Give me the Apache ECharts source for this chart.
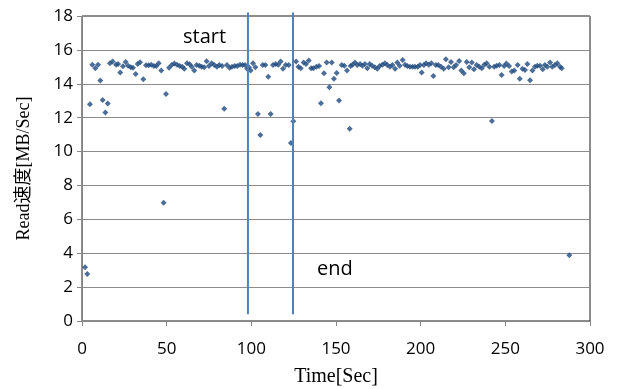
<!DOCTYPE html>
<html>
<head>
<meta charset="utf-8">
<script src="https://cdn.jsdelivr.net/npm/echarts@6/dist/echarts.min.js"></script>
<style>html,body{margin:0;padding:0;background:#fff}#c{width:619px;height:389px}</style>
</head>
<body>
<div id="c"></div>
<script>
var timeSec = [1.8,3.1,4.7,6.1,7.9,9.5,10.8,12.2,13.8,15.2,16.5,18.1,20.1,21.3,22.6,24.2,25.8,27.2,28.8,30.1,31.7,32.9,34.3,36.2,37.8,39.4,40.9,42.5,43.9,45.3,46.8,48.2,49.6,51.4,53.0,54.5,56.1,57.7,59.2,60.4,62.0,63.6,64.8,66.3,67.7,69.3,70.7,72.2,73.6,75.0,76.6,78.1,79.7,81.1,82.7,84.0,85.6,87.2,88.6,90.2,91.7,93.3,94.9,96.3,97.5,98.6,99.6,101.0,102.4,103.9,105.3,106.7,108.3,110.0,111.4,112.8,114.4,115.9,117.3,118.7,120.3,122.1,123.4,124.8,126.4,127.8,129.2,130.9,132.3,133.9,135.3,136.6,138.4,140.0,141.1,142.9,144.5,146.1,147.5,148.8,150.4,151.8,153.4,154.9,156.5,158.1,158.6,159.7,161.2,162.6,164.2,165.6,167.1,168.5,169.9,171.3,172.9,174.4,175.8,177.4,178.9,180.3,181.9,183.3,184.9,186.2,187.6,189.4,190.8,192.1,193.7,195.3,196.7,198.3,199.6,200.6,201.9,203.2,204.8,206.3,207.5,208.9,210.4,212.0,213.6,214.9,216.5,217.9,219.5,220.9,222.7,224.0,225.5,227.2,228.7,230.2,231.5,233.1,234.6,236.1,237.6,239.0,240.6,242.1,243.4,244.9,246.5,247.8,249.3,250.6,252.2,253.8,255.3,257.3,258.5,260.1,261.6,263.0,264.6,266.0,267.5,268.9,270.5,272.1,273.4,274.8,276.4,277.7,279.3,280.7,282.3,283.3,287.8];
var readSpeed = [3.17,2.77,12.79,15.13,14.92,15.13,14.19,13.05,12.3,12.83,15.21,15.31,15.13,15.17,14.66,15.04,15.29,15.07,14.98,14.95,14.58,15.17,15.27,14.27,15.09,15.09,15.13,15.05,15.05,15.21,14.78,6.98,13.4,14.95,15.11,15.19,15.13,15.05,15.01,14.88,15.21,15.15,15.01,14.78,15.11,15.07,15.01,14.98,15.33,15.05,15.21,15.11,15.01,15.11,15.05,12.53,15.11,14.95,15.01,15.05,15.05,15.13,15.11,15.11,14.88,14.98,14.78,15.21,14.98,12.22,10.98,15.11,15.11,14.42,12.22,15.11,15.17,15.13,15.31,14.88,15.11,15.11,10.5,11.79,15.31,15.01,14.92,15.25,15.17,15.37,14.92,14.92,15.01,15.05,12.85,14.62,15.25,13.79,15.25,14.29,14.64,13.02,15.11,15.07,14.78,11.35,15.05,15.13,15.25,15.11,15.17,15.07,15.17,14.92,15.17,15.07,14.98,14.88,15.05,15.13,15.21,15.11,15.01,15.11,14.88,15.25,15.07,15.41,15.13,15.05,15.01,15.01,15.01,15.01,15.11,14.66,15.11,15.21,15.13,15.21,14.46,15.11,15.11,15.01,14.88,15.45,14.98,15.29,14.98,15.11,15.35,14.78,14.62,15.29,14.98,15.25,14.86,15.11,15.01,14.92,15.13,15.21,15.01,11.8,15.01,15.07,15.11,14.52,15.05,15.19,15.05,14.72,14.78,15.11,14.3,14.88,14.82,15.17,14.21,14.78,15.01,15.07,15.07,14.86,15.11,15.01,15.25,15.01,15.11,15.21,15.01,14.92,3.88];
var startTime = 98;
var endTime = 124.6;
var markerLineRange = [0.4, 18.2];
var xTicks = [0, 50, 100, 150, 200, 250, 300];
var yTicks = [0, 2, 4, 6, 8, 10, 12, 14, 16, 18];

var points = timeSec.map(function(t, i){ return [t, readSpeed[i]]; });
var chart = echarts.init(document.getElementById('c'), null, {renderer:'canvas'});
var sans = '"Open Sans", "Liberation Sans", sans-serif';
var serif = '"Liberation Serif", "Noto Sans CJK JP", serif';
chart.setOption({
  animation: false,
  backgroundColor: '#fff',
  grid: {left: 82, right: 29, top: 16, bottom: 68, containLabel: false, outerBoundsMode: 'none',
         show: true, borderColor: '#1a1a1a', borderWidth: 1},
  xAxis: {
    type: 'value', min: xTicks[0], max: xTicks[xTicks.length-1], interval: 50,
    name: 'Time[Sec]', nameLocation: 'middle', nameGap: 46,
    nameTextStyle: {fontFamily: serif, fontSize: 20, color: '#000'},
    axisLine: {show: true, lineStyle: {color: '#868686', width: 1}},
    axisTick: {show: true, inside: false, length: 5, lineStyle: {color: '#868686'}},
    axisLabel: {margin: 20, fontFamily: sans, fontSize: 17, color: '#000'},
    splitLine: {show: false}
  },
  yAxis: {
    type: 'value', min: yTicks[0], max: yTicks[yTicks.length-1], interval: 2,
    name: 'Read速度[MB/Sec]', nameLocation: 'middle', nameGap: 49,
    nameTextStyle: {fontFamily: serif, fontSize: 18, color: '#000'},
    axisLine: {show: true, lineStyle: {color: '#868686', width: 1}},
    axisTick: {show: true, inside: false, length: 5, lineStyle: {color: '#868686'}},
    axisLabel: {margin: 9, fontFamily: sans, fontSize: 17, color: '#000'},
    splitLine: {show: true, lineStyle: {color: '#8c8c8c', width: 1}}
  },
  series: [
    {
      type: 'scatter', data: points, symbol: 'diamond', symbolSize: 6,
      itemStyle: {color: '#1f4a7e'}, z: 3
    },
    {
      type: 'line', data: [[startTime, markerLineRange[0]], [startTime, markerLineRange[1]]],
      showSymbol: false, symbol: 'none', clip: false,
      lineStyle: {color: '#4f81bd', width: 2}, z: 4
    },
    {
      type: 'line', data: [[endTime, markerLineRange[0]], [endTime, markerLineRange[1]]],
      showSymbol: false, symbol: 'none', clip: false,
      lineStyle: {color: '#4f81bd', width: 2}, z: 4
    }
  ],
  graphic: [
    {type: 'text', left: 183, top: 27, style: {text: 'start', font: '20px "Open Sans", sans-serif', fill: '#000'}},
    {type: 'text', left: 317, top: 259, style: {text: 'end', font: '20px "Open Sans", sans-serif', fill: '#000'}}
  ]
});
</script>
</body>
</html>
